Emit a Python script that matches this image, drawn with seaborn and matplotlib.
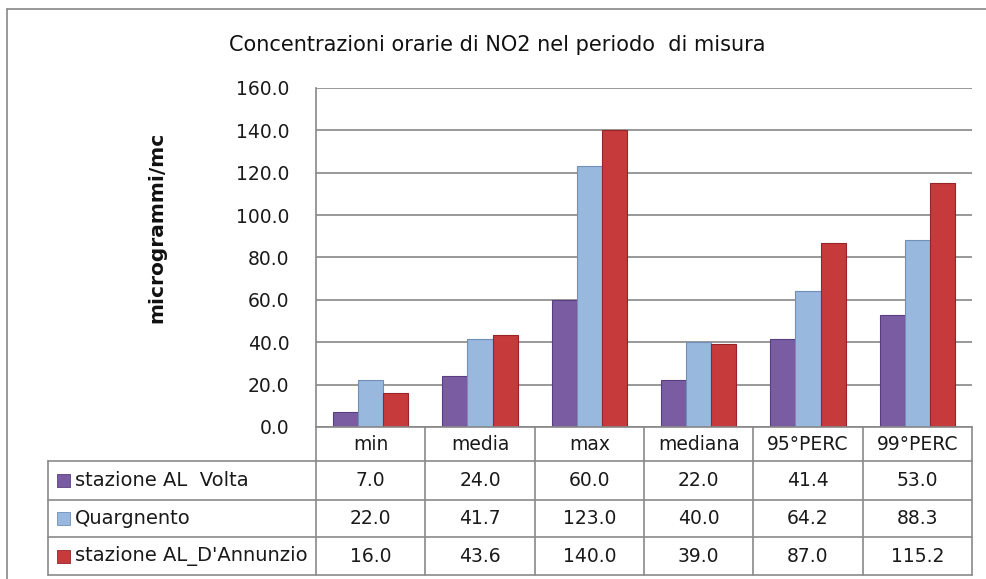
import matplotlib
matplotlib.use("Agg")
import numpy as np
import pandas as pd
import seaborn as sns
import matplotlib.pyplot as plt
import matplotlib.transforms as mtransforms
from matplotlib.lines import Line2D
from matplotlib.patches import Rectangle

# ---------------- data ----------------
categories = ["min", "media", "max", "mediana", "95°PERC", "99°PERC"]
series_names = ["stazione AL  Volta", "Quargnento", "stazione AL_D'Annunzio"]
volta = [7.0, 24.0, 60.0, 22.0, 41.4, 53.0]
quargnento = [22.0, 41.7, 123.0, 40.0, 64.2, 88.3]
dannunzio = [16.0, 43.6, 140.0, 39.0, 87.0, 115.2]
yticks = [0, 20, 40, 60, 80, 100, 120, 140, 160]
title = "Concentrazioni orarie di NO2 nel periodo  di misura"
ylabel = "microgrammi/mc"

colors = ["#7a5ca3", "#98b8dd", "#c73a3b"]
edge_colors = ["#5a3f80", "#7090b8", "#952526"]

series_values = [volta, quargnento, dannunzio]
df = pd.DataFrame({
    "cat": np.repeat([categories], 3, axis=0).ravel(),
    "station": np.repeat(series_names, len(categories)),
    "val": np.concatenate(series_values),
})

sns.set_theme(style="white")
plt.rcParams["font.family"] = ["DejaVu Sans"]

W, H = 986, 579
fig = plt.figure(figsize=(W / 100, H / 100), dpi=100)


def fx(x):
    return x / W


def fy(y):
    return 1 - y / H


FS = 13.5
TXT = "#1a1a1a"

# plot area
ax_l, ax_r, ax_t, ax_b = 316, 972, 88, 427
ax = fig.add_axes([fx(ax_l), fy(ax_b), fx(ax_r - ax_l), fy(ax_t) - fy(ax_b)])

sns.barplot(data=df, x="cat", y="val", hue="station", order=categories,
            hue_order=series_names, palette=colors, width=0.69, gap=0,
            saturation=1, legend=False, ax=ax, errorbar=None)

n = len(categories)
for i, p in enumerate(ax.patches[: 3 * n]):
    s = i // n
    p.set_edgecolor(edge_colors[s])
    p.set_linewidth(0.8)

ax.set_xlim(-0.5, n - 0.5)
ax.set_ylim(0, 160)
ax.set_yticks(yticks)
ax.set_yticklabels([f"{v:.1f}" for v in yticks], fontsize=FS, color=TXT)
ax.tick_params(axis="y", length=0, pad=19)
ax.set_xticks([])
ax.set_xlabel("")
ax.set_ylabel("")
ax.yaxis.grid(True, color="#878787", linewidth=1.2)
ax.set_axisbelow(True)
for s in ["top", "right"]:
    ax.spines[s].set_visible(False)
for s in ["left", "bottom"]:
    ax.spines[s].set_color("#878787")
    ax.spines[s].set_linewidth(1.2)

# title and y label
fig.text(fx(497), fy(45), title, ha="center", va="center", fontsize=15,
         color="#111111")
fig.text(fx(157), fy(227), ylabel, ha="center", va="center", rotation=90,
         fontsize=14.5, fontweight="bold", color="#111111")

# outer chart frame
gc = "#888888"
fig.add_artist(Line2D([fx(7), fx(986)], [fy(9), fy(9)], color=gc, lw=1.2))
fig.add_artist(Line2D([fx(7), fx(7)], [fy(9), fy(579)], color=gc, lw=1.2))

# ---------------- data table ----------------
blend = mtransforms.blended_transform_factory(ax.transData, fig.transFigure)
row_edges = [427, 461, 500, 537, 575]
tl = 48
lc = "#8a8a8a"
for y in row_edges[1:]:
    fig.add_artist(Line2D([fx(tl), fx(ax_r)], [fy(y), fy(y)], color=lc, lw=1.2))
fig.add_artist(Line2D([fx(tl), fx(tl)], [fy(461), fy(575)], color=lc, lw=1.2))
for k in range(n + 1):
    xk = k - 0.5
    fig.add_artist(Line2D([xk, xk], [fy(427), fy(575)], color=lc, lw=1.2,
                          transform=blend))

hy = (row_edges[0] + row_edges[1]) / 2
for i, c in enumerate(categories):
    fig.text(i, fy(hy), c, transform=blend, ha="center", va="center",
             fontsize=FS, color=TXT)

for r, (name, vals) in enumerate(zip(series_names, series_values)):
    yc = (row_edges[r + 1] + row_edges[r + 2]) / 2
    fig.add_artist(Rectangle((fx(57), fy(yc + 6.5)), fx(13), fy(0) - fy(13),
                             facecolor=colors[r], edgecolor=edge_colors[r],
                             lw=0.6))
    fig.text(fx(75), fy(yc), name, ha="left", va="center", fontsize=14,
             color=TXT)
    for i, v in enumerate(vals):
        fig.text(i, fy(yc), f"{v:.1f}", transform=blend, ha="center",
                 va="center", fontsize=FS, color=TXT)

fig.savefig("out.png", dpi=100, facecolor="white")
